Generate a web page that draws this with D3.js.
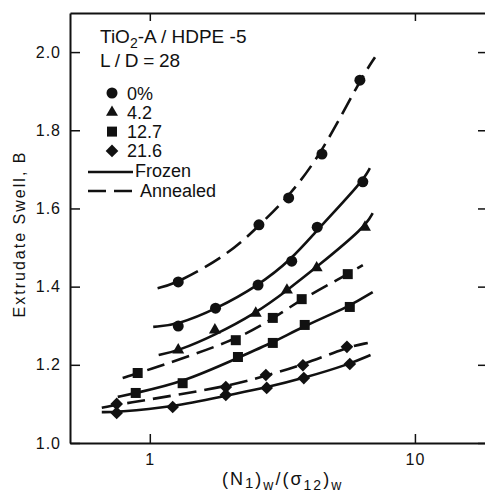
<!DOCTYPE html>
<html>
<head>
<meta charset="utf-8">
<script src="https://cdn.jsdelivr.net/npm/d3@7/dist/d3.min.js"></script>
<style>
  html, body { margin: 0; padding: 0; background: #fff; }
  svg { display: block; font-family: "Liberation Sans", Arial, sans-serif; }
</style>
</head>
<body>
<svg id="chart" width="485" height="495"></svg>
<script>
// ---------------- data ----------------
const seriesNames = ["0%", "4.2", "12.7", "21.6"];
const xTicks = [1, 10];
const yTicks = [1.0, 1.2, 1.4, 1.6, 1.8, 2.0];

// markers: [x, B]
const pts0Annealed  = [[1.28,1.412],[2.58,1.558],[3.34,1.627],[4.46,1.739],[6.2,1.928]];
const pts0Frozen    = [[1.28,1.299],[1.77,1.345],[2.56,1.404],[3.43,1.465],[4.28,1.552],[6.36,1.668]];
const pts42Frozen   = [[1.28,1.238],[1.76,1.289],[2.51,1.332],[3.29,1.391],[4.26,1.448],[6.48,1.552]];
const pts127Annealed= [[0.90,1.179],[2.11,1.263],[2.91,1.320],[3.74,1.368],[5.58,1.432]];
const pts127Frozen  = [[0.885,1.128],[1.33,1.153],[2.15,1.220],[2.91,1.256],[3.84,1.302],[5.68,1.348]];
const pts216Annealed= [[0.75,1.100],[1.935,1.143],[2.74,1.174],[3.78,1.199],[5.54,1.246]];
const pts216Frozen  = [[0.75,1.077],[1.22,1.092],[1.935,1.123],[2.76,1.141],[3.81,1.166],[5.68,1.202]];

// fitted curves: [x, B]
const fit0Annealed  = [[1.07,1.396],[1.28,1.410],[2.0,1.485],[2.58,1.556],[3.34,1.630],[4.46,1.742],[6.2,1.928],[7.07,1.987]];
const fit0Frozen    = [[1.03,1.297],[1.28,1.303],[1.77,1.342],[2.56,1.402],[3.43,1.470],[4.28,1.545],[6.36,1.670],[6.76,1.703]];
const fit42Frozen   = [[1.08,1.225],[1.28,1.236],[1.76,1.276],[2.51,1.332],[3.29,1.390],[4.26,1.450],[6.48,1.552],[6.93,1.588]];
const fit127Annealed= [[0.79,1.166],[0.90,1.178],[2.11,1.262],[2.91,1.318],[3.74,1.368],[5.58,1.432],[6.36,1.455]];
const fit127Frozen  = [[0.757,1.118],[0.885,1.128],[1.33,1.155],[2.15,1.218],[2.91,1.257],[3.84,1.300],[5.68,1.350],[6.93,1.386]];
const fit216Annealed= [[0.659,1.090],[0.75,1.098],[1.935,1.143],[2.74,1.172],[3.78,1.200],[5.54,1.245],[6.64,1.256]];
const fit216Frozen  = [[0.659,1.079],[0.75,1.079],[1.22,1.092],[1.935,1.121],[2.76,1.142],[3.81,1.166],[5.68,1.202],[6.8,1.225]];

const curves = [
  {fit: fit0Annealed,   pts: pts0Annealed,   sym: "circle",   dashed: true},
  {fit: fit0Frozen,     pts: pts0Frozen,     sym: "circle",   dashed: false},
  {fit: fit42Frozen,    pts: pts42Frozen,    sym: "triangle", dashed: false},
  {fit: fit127Annealed, pts: pts127Annealed, sym: "square",   dashed: true},
  {fit: fit127Frozen,   pts: pts127Frozen,   sym: "square",   dashed: false},
  {fit: fit216Annealed, pts: pts216Annealed, sym: "diamond",  dashed: true},
  {fit: fit216Frozen,   pts: pts216Frozen,   sym: "diamond",  dashed: false}
];

// ---------------- layout ----------------
const svg = d3.select("#chart");
const L = 70, R = 487, T = 13, B = 443;
const x = d3.scaleLog().domain([0.5, 18.7]).range([L, R]);
const y = d3.scaleLinear().domain([1.0, 2.1]).range([B, T]);
const ink = "#111";
const DASH = "18,8";

// axes
const gL = svg.append("g").attr("transform", `translate(${L},0)`)
  .call(d3.axisLeft(y).tickValues(yTicks).tickSize(-10).tickSizeOuter(0).tickPadding(9).tickFormat(d3.format(".1f")));
const gB = svg.append("g").attr("transform", `translate(0,${B})`)
  .call(d3.axisBottom(x).tickValues(xTicks).tickSize(-9).tickSizeOuter(0).tickPadding(11).tickFormat(d3.format("d")));
const gT = svg.append("g").attr("transform", `translate(0,${T})`)
  .call(d3.axisTop(x).tickValues(xTicks).tickSize(-8).tickSizeOuter(0).tickFormat(""));
const gR = svg.append("g").attr("transform", `translate(${R},0)`)
  .call(d3.axisRight(y).tickValues(yTicks).tickSize(-9).tickSizeOuter(0).tickFormat(""));
[gL, gB, gT, gR].forEach(g => {
  g.select(".domain").attr("stroke", ink).attr("stroke-width", 2);
  g.selectAll(".tick line").attr("stroke", ink).attr("stroke-width", 1.5);
  g.selectAll(".tick text").attr("fill", ink).attr("font-size", 16)
    .attr("letter-spacing", 1)
    .attr("font-family", "Liberation Sans, Arial, sans-serif");
});

// curves
const line = d3.line().x(d => x(d[0])).y(d => y(d[1])).curve(d3.curveBasis);
const symMap = {
  circle:   d3.symbol().type(d3.symbolCircle).size(95),
  triangle: d3.symbol().type(d3.symbolTriangle).size(62),
  square:   d3.symbol().type(d3.symbolSquare).size(100),
  diamond:  d3.symbol().type(d3.symbolSquare).size(80)
};
const rotFor = s => s === "diamond" ? " rotate(45)" : "";

curves.forEach(c => {
  svg.append("path").datum(c.fit).attr("d", line)
    .attr("fill", "none").attr("stroke", ink).attr("stroke-width", 2.6)
    .attr("stroke-dasharray", c.dashed ? DASH : null);
  svg.append("g").selectAll("path").data(c.pts).join("path")
    .attr("d", symMap[c.sym]())
    .attr("transform", d => `translate(${x(d[0])},${y(d[1])})${rotFor(c.sym)}`)
    .attr("fill", ink);
});

// legend
const title = svg.append("text").attr("x", 100).attr("y", 43).attr("font-size", 19).attr("fill", ink);
title.append("tspan").text("TiO");
title.append("tspan").attr("font-size", 14).attr("dy", 5).text("2");
title.append("tspan").attr("dy", -5).text("-A / HDPE -5");
svg.append("text").attr("x", 100).attr("y", 67).attr("font-size", 19).attr("fill", ink)
  .attr("textLength", 80).attr("lengthAdjust", "spacing").text("L / D = 28");

const legSyms = ["circle", "triangle", "square", "diamond"];
seriesNames.forEach((name, i) => {
  const cy = 93 + i * 19.3;
  svg.append("path").attr("d", symMap[legSyms[i]]())
    .attr("transform", `translate(112,${cy})${rotFor(legSyms[i])}`).attr("fill", ink);
  svg.append("text").attr("x", 127).attr("y", cy + 6.5).attr("font-size", 18).attr("fill", ink).text(name);
});
svg.append("line").attr("x1", 88).attr("x2", 133).attr("y1", 172).attr("y2", 172)
  .attr("stroke", ink).attr("stroke-width", 2.6);
svg.append("text").attr("x", 135).attr("y", 177).attr("font-size", 18).attr("fill", ink).text("Frozen");
svg.append("line").attr("x1", 88).attr("x2", 133).attr("y1", 191).attr("y2", 191)
  .attr("stroke", ink).attr("stroke-width", 2.6).attr("stroke-dasharray", DASH);
svg.append("text").attr("x", 140).attr("y", 197).attr("font-size", 18).attr("fill", ink).text("Annealed");

// axis titles
svg.append("text").attr("transform", "translate(25,235) rotate(-90)")
  .attr("text-anchor", "middle").attr("font-size", 16).attr("fill", ink)
  .attr("textLength", 165).attr("lengthAdjust", "spacing").text("Extrudate Swell, B");

const xt = svg.append("text").attr("x", 222).attr("y", 485).attr("font-size", 18)
  .attr("letter-spacing", 2).attr("fill", ink);
xt.append("tspan").text("(N");
xt.append("tspan").attr("font-size", 15).attr("dy", 3).text("1");
xt.append("tspan").attr("dy", -3).text(")");
xt.append("tspan").attr("font-size", 14).attr("dy", 5).text("w");
xt.append("tspan").attr("dy", -5).text("/(σ");
xt.append("tspan").attr("font-size", 14).attr("dy", 5).text("12");
xt.append("tspan").attr("dy", -5).text(")");
xt.append("tspan").attr("font-size", 14).attr("dy", 5).text("w");
</script>
</body>
</html>
